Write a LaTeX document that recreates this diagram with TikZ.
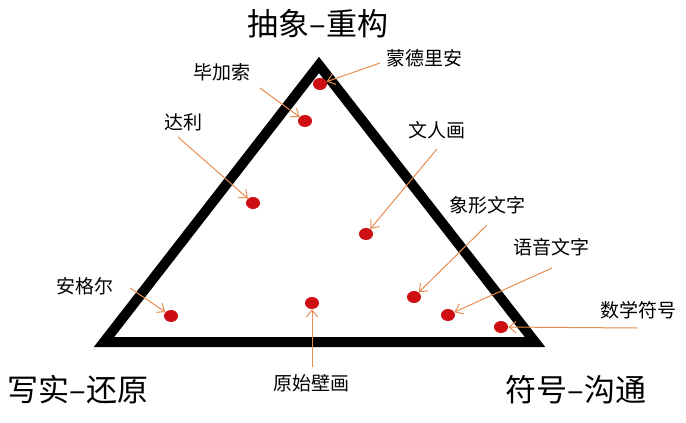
\documentclass[tikz,border=0pt]{standalone}
\usepackage{fontspec}
\setmainfont{Noto Sans CJK SC}
\usetikzlibrary{arrows.meta,shapes.geometric}
\definecolor{pointcol}{RGB}{232,140,80}
\definecolor{workcol}{RGB}{205,15,20}
\tikzset{pole/.style={font=\fontsize{31}{36}\selectfont},
 worklabel/.style={font=\fontsize{19}{22}\selectfont},
 workdot/.style={ellipse,fill=workcol,draw=none,minimum width=14pt,minimum height=12pt,inner sep=0pt},
 pointsto/.style={-{Straight Barb[length=7pt,width=11pt]},pointcol,line width=1pt}}

\begin{document}
\begin{tikzpicture}[x=1pt,y=-1pt]
\useasboundingbox (0,0) rectangle (686,423);
\draw[line width=10pt,miter limit=10] (319,65)--(104,342)--(535,342)--cycle;
% the three poles
\node[pole] (abstract) at (318,24) {抽象–重构};
\node[pole] (realism) at (78,390) {写实–还原};
\node[pole] (symbol) at (576,390) {符号–沟通};
% works
\node[workdot] (mondrian) at (320,84) {};
\node[workdot] (picasso) at (305,121) {};
\node[workdot] (dali) at (253,203) {};
\node[workdot] (literati) at (366,234) {};
\node[workdot] (pictograph) at (414,297) {};
\node[workdot] (phonetic) at (448,315) {};
\node[workdot] (math) at (501,327) {};
\node[workdot] (ingres) at (171,316) {};
\node[workdot] (mural) at (312,303) {};
\node[worklabel] (mondrianL) at (424,58) {蒙德里安};
\node[worklabel] (picassoL) at (222,72) {毕加索};
\node[worklabel] (daliL) at (183,122) {达利};
\node[worklabel] (literatiL) at (437,130) {文人画};
\node[worklabel] (pictographL) at (487,205) {象形文字};
\node[worklabel] (phoneticL) at (551,247) {语音文字};
\node[worklabel] (mathL) at (638,310) {数学符号};
\node[worklabel] (ingresL) at (85,286) {安格尔};
\node[worklabel] (muralL) at (311,383) {原始壁画};
% arrow tails
\coordinate (mondrianT) at (380,63);
\coordinate (picassoT) at (260,88);
\coordinate (daliT) at (178,137);
\coordinate (literatiT) at (437,149);
\coordinate (pictographT) at (487,225);
\coordinate (phoneticT) at (552,268);
\coordinate (mathT) at (637,328);
\coordinate (ingresT) at (130,288);
\coordinate (muralT) at (312,367);
\foreach \w in {mondrian,picasso,dali,literati,pictograph,phonetic,math,ingres,mural}
  \draw[pointsto] (\w T)--(\w);
\end{tikzpicture}
\end{document}
